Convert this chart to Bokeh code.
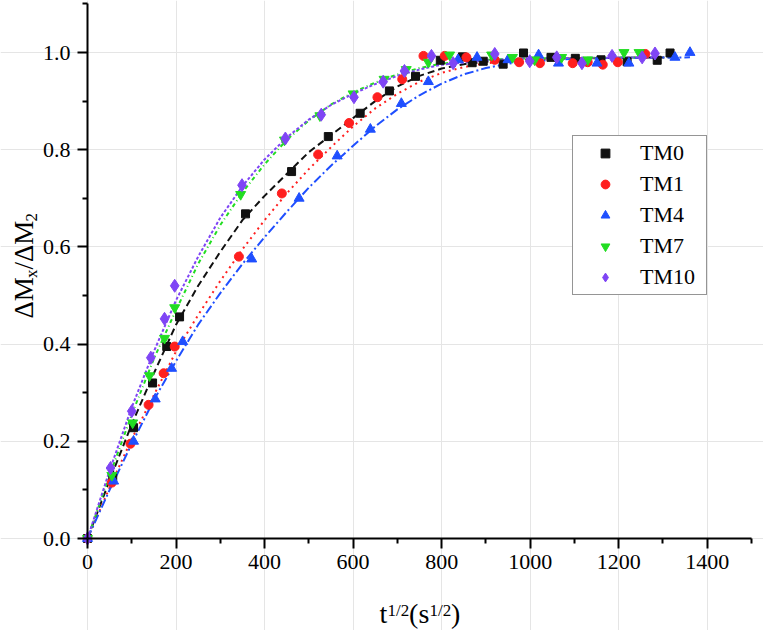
import math
from bokeh.plotting import figure
from bokeh.models import Range1d, FixedTicker, PrintfTickFormatter, Legend, LegendItem, Label, LinearAxis
from bokeh.embed import file_html
from bokeh.resources import INLINE

# ---------------- data ----------------
names = ["TM0", "TM1", "TM4", "TM7", "TM10"]

# measured points
tm0_x = [0, 57, 104, 147, 179, 208, 357, 461, 544, 616, 682, 741, 797, 847, 869, 894, 939, 985, 1047, 1102, 1160, 1219, 1287, 1316]
tm0_y = [0.0, 0.125, 0.228, 0.32, 0.395, 0.456, 0.668, 0.755, 0.827, 0.875, 0.921, 0.951, 0.984, 0.991, 0.979, 0.982, 0.976, 0.999, 0.99, 0.988, 0.985, 0.981, 0.984, 0.999]

tm1_x = [0, 55, 97, 138, 172, 197, 342, 439, 521, 591, 655, 711, 759, 807, 856, 920, 975, 1022, 1096, 1130, 1164, 1198, 1260]
tm1_y = [0.0, 0.115, 0.195, 0.275, 0.34, 0.395, 0.58, 0.71, 0.79, 0.855, 0.908, 0.945, 0.993, 0.993, 0.99, 0.985, 0.98, 0.978, 0.978, 0.98, 0.975, 0.98, 0.997]

tm4_x = [0, 59, 104, 153, 190, 215, 371, 478, 564, 639, 709, 770, 837, 880, 950, 1019, 1064, 1151, 1223, 1327, 1361]
tm4_y = [0.0, 0.118, 0.2, 0.287, 0.35, 0.405, 0.575, 0.70, 0.787, 0.842, 0.895, 0.94, 0.985, 0.99, 0.985, 0.995, 0.978, 0.978, 0.978, 0.99, 1.0]

tm7_x = [0, 55, 102, 140, 174, 197, 346, 445, 525, 600, 670, 720, 770, 818, 913, 960, 1010, 1071, 1130, 1212, 1246]
tm7_y = [0.0, 0.13, 0.238, 0.335, 0.412, 0.475, 0.708, 0.82, 0.87, 0.915, 0.945, 0.965, 0.98, 0.995, 0.995, 0.99, 0.985, 0.99, 0.985, 1.0, 1.0]

tm10_x = [0, 52, 100, 143, 174, 197, 349, 447, 528, 602, 668, 716, 777, 826, 920, 999, 1060, 1117, 1185, 1253, 1282]
tm10_y = [0.0, 0.145, 0.262, 0.372, 0.452, 0.52, 0.727, 0.823, 0.872, 0.908, 0.94, 0.962, 0.993, 0.978, 0.997, 0.982, 0.99, 0.978, 0.993, 0.99, 0.998]

# fitted curves
fit0_x = [0, 50, 100, 150, 200, 250, 300, 350, 400, 450, 500, 550, 600, 650, 700, 750, 800, 850, 900, 1000, 1100, 1316]
fit0_y = [0.0, 0.12, 0.235, 0.34, 0.44, 0.52, 0.59, 0.655, 0.705, 0.75, 0.795, 0.83, 0.865, 0.9, 0.93, 0.952, 0.967, 0.976, 0.981, 0.986, 0.988, 0.99]

fit1_x = [0, 50, 100, 150, 200, 250, 300, 350, 400, 450, 500, 550, 600, 650, 700, 750, 800, 850, 900, 1000, 1100, 1260]
fit1_y = [0.0, 0.105, 0.205, 0.295, 0.385, 0.46, 0.53, 0.595, 0.655, 0.71, 0.76, 0.805, 0.848, 0.885, 0.915, 0.94, 0.958, 0.97, 0.978, 0.985, 0.988, 0.99]

fit4_x = [0, 50, 100, 150, 200, 250, 300, 350, 400, 450, 500, 550, 600, 650, 700, 750, 800, 850, 900, 950, 1000, 1100, 1200, 1361]
fit4_y = [0.0, 0.1, 0.195, 0.285, 0.365, 0.44, 0.505, 0.565, 0.62, 0.672, 0.722, 0.767, 0.808, 0.848, 0.883, 0.912, 0.936, 0.955, 0.968, 0.977, 0.982, 0.987, 0.989, 0.99]

fit7_x = [0, 50, 100, 150, 200, 250, 300, 350, 400, 450, 500, 550, 600, 650, 700, 750, 800, 900, 1000, 1246]
fit7_y = [0.0, 0.13, 0.255, 0.37, 0.47, 0.565, 0.645, 0.712, 0.77, 0.82, 0.86, 0.893, 0.918, 0.938, 0.955, 0.968, 0.977, 0.985, 0.988, 0.99]

fit10_x = [0, 50, 100, 150, 200, 250, 300, 350, 400, 450, 500, 550, 600, 650, 700, 750, 800, 900, 1000, 1282]
fit10_y = [0.0, 0.14, 0.27, 0.385, 0.49, 0.58, 0.66, 0.725, 0.78, 0.825, 0.862, 0.892, 0.915, 0.935, 0.952, 0.965, 0.975, 0.984, 0.988, 0.99]

x_ticks = [0, 200, 400, 600, 800, 1000, 1200, 1400]
x_minor = [100, 300, 500, 700, 900, 1100, 1300, 1500]
y_ticks = [0.0, 0.2, 0.4, 0.6, 0.8, 1.0]
y_minor = [0.1, 0.3, 0.5, 0.7, 0.9, 1.1]

# ---------------- layout ----------------
W, H = 763, 630
X0_PX, X_SCALE = 87, 664 / 1500.0      # pixel of x=0, px per unit
Y0_PX, Y_SCALE = 538, 486.0            # pixel row of y=0, px per unit

colors = ["#111111", "#ff1f1f", "#1f4fff", "#22dd22", "#7f45f5"]
markers = ["square", "circle", "triangle", "inverted_triangle", "diamond"]
msizes = [8, 9, 10, 10, 13]
dashes = ["7 4", "2 4", "9 3 2 3", "4 3 1 3", "3 2"]

SERIF = "'Liberation Serif', 'Times New Roman', serif"

x_rng = Range1d(-X0_PX / X_SCALE, (W - X0_PX) / X_SCALE)
y_rng = Range1d(-(H - Y0_PX) / Y_SCALE, Y0_PX / Y_SCALE)

p = figure(width=W, height=H, output_backend="svg", toolbar_location=None,
           x_range=x_rng, y_range=y_rng, x_axis_location=None, y_axis_location=None,
           min_border=0)
p.title.visible = False
p.outline_line_color = None
p.background_fill_color = "white"
p.border_fill_color = "white"

xaxis = LinearAxis(fixed_location=0, bounds=(0, 1500),
                   ticker=FixedTicker(ticks=x_ticks, minor_ticks=x_minor))
yaxis = LinearAxis(fixed_location=0, bounds=(0, 1.1),
                   ticker=FixedTicker(ticks=y_ticks, minor_ticks=y_minor),
                   formatter=PrintfTickFormatter(format="%.1f"))
for ax in (xaxis, yaxis):
    ax.axis_line_width = 2
    ax.axis_line_color = "black"
    ax.major_tick_line_width = 2
    ax.minor_tick_line_width = 2
    ax.major_tick_line_color = "black"
    ax.minor_tick_line_color = "black"
    ax.major_tick_in = 0
    ax.major_tick_out = 10
    ax.minor_tick_in = 0
    ax.minor_tick_out = 5
    ax.major_label_text_font = SERIF
    ax.major_label_text_font_size = "22px"
    ax.major_label_text_color = "black"
xaxis.major_label_standoff = 6
yaxis.major_label_standoff = 7
p.add_layout(xaxis, "below")
p.add_layout(yaxis, "left")

pts = [(tm0_x, tm0_y), (tm1_x, tm1_y), (tm4_x, tm4_y), (tm7_x, tm7_y), (tm10_x, tm10_y)]
fits = [(fit0_x, fit0_y), (fit1_x, fit1_y), (fit4_x, fit4_y), (fit7_x, fit7_y), (fit10_x, fit10_y)]

for (fx, fy), c, d in zip(fits, colors, dashes):
    p.line(fx, fy, line_color=c, line_width=2, line_dash=d)

items = []
for name, (xs, ys), c, m, s in zip(names, pts, colors, markers, msizes):
    r = p.scatter(xs, ys, marker=m, size=s, fill_color=c, line_color=c, line_width=1)
    items.append(LegendItem(label=name, renderers=[r]))

# legend box: left 572, bottom 295 (pixels from top-left)
legend = Legend(items=items, location=(572, H - 295))
legend.label_text_font = SERIF
legend.label_text_font_size = "22px"
legend.label_text_color = "black"
legend.label_height = 26
legend.glyph_height = 22
legend.glyph_width = 56
legend.label_width = 62
legend.label_standoff = 7
legend.spacing = 5
legend.padding = 4
legend.margin = 0
legend.border_line_color = "#2b2b2b"
legend.border_line_width = 1.5
legend.background_fill_color = "white"
legend.background_fill_alpha = 1.0
p.add_layout(legend, "center")

# x-axis title: t^{1/2}(s^{1/2})  (screen units: from left / from bottom of canvas)
MAIN_Y, SUP_Y = H - 613, H - 610
xt = [("t", 379, MAIN_Y, "28px"), ("1/2", 387, SUP_Y, "17px"), ("(", 408.5, MAIN_Y, "28px"),
      ("s", 418, MAIN_Y, "28px"), ("1/2", 429, SUP_Y, "17px"), (")", 450.5, MAIN_Y, "28px")]
for txt, sx, sy, fs in xt:
    p.add_layout(Label(x=sx, y=sy, x_units="screen", y_units="screen", text=txt,
                       text_font=SERIF, text_font_size=fs, text_color="black",
                       text_align="left", text_baseline="alphabetic"))

# y-axis title: ΔM_x/ΔM_2 (rotated, reads upward)
MAIN_X, SUB_X = 23, 31
yt = [("\u0394M", MAIN_X, H - 318, "27px"), ("x", SUB_X, H - 277.5, "17px"), ("/", MAIN_X, H - 269, "27px"),
      ("\u0394M", MAIN_X, H - 261.5, "27px"), ("2", SUB_X, H - 221, "17px")]
for txt, sx, sy, fs in yt:
    p.add_layout(Label(x=sx, y=sy, x_units="screen", y_units="screen", text=txt, angle=math.pi / 2,
                       text_font=SERIF, text_font_size=fs, text_color="black",
                       text_align="left", text_baseline="alphabetic"))

open("out.html", "w").write(file_html(p, INLINE))
